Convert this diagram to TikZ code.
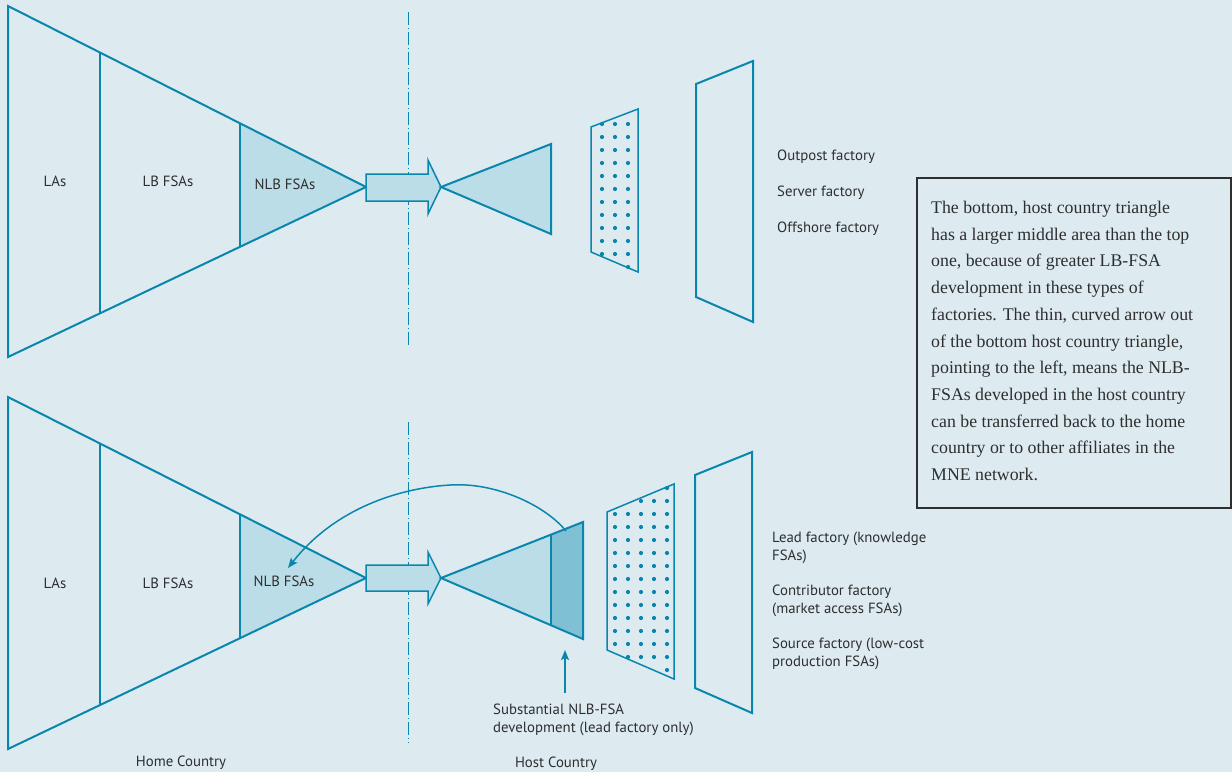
\documentclass[tikz,border=0pt]{standalone}
\usepackage{fontspec}
\setmainfont{Liberation Serif}
\newfontfamily\labelfont{PT Sans}
\usetikzlibrary{arrows.meta}
\definecolor{bg}{HTML}{DDEBF1}
\definecolor{ln}{HTML}{0A86AD}
\definecolor{fl}{HTML}{BBDDE7}
\definecolor{fd}{HTML}{80C0D4}
\definecolor{tx}{HTML}{2E2E2E}
\begin{document}
\begin{tikzpicture}[x=1pt,y=-1pt,
  shapeline/.style={draw=ln, line width=2pt, line join=miter},
  thinline/.style={draw=ln, line width=1.5pt, line join=miter},
  blockarrow/.style={draw=ln, line width=1.5pt, fill=fl, line join=miter},
  divider/.style={draw=ln, line width=2pt},
  axis/.style={draw=ln, line width=1pt, dash pattern=on 13pt off 3pt on 1pt off 3pt},
  lbl/.style={font=\labelfont\fontsize{14.8}{18}\selectfont, text=tx, inner sep=0pt},
  boxtext/.style={font=\fontsize{17.8}{26.7}\selectfont, text=tx, inner sep=0pt, align=left},
  dot/.style={fill=ln},
  connector/.style={draw=ln, line width=1.5pt, -{Stealth[length=10pt,width=8pt,inset=2pt]}},
]
\fill[bg] (0,0) rectangle (1232,772);
\useasboundingbox (0,0) rectangle (1232,772);

% ---------- TOP ROW ----------
\fill[fl] (240,123.3) -- (366,187) -- (240,246.8) -- cycle;
\draw[shapeline] (8,6) -- (366,187) -- (8,357) -- cycle;
\draw[divider] (100,52.5) -- (100,313.3);
\draw[divider] (240,123.3) -- (240,246.8);
\node[lbl, anchor=base] (tlas) at (55,186) {LAs};
\node[lbl, anchor=base] (tlb) at (168,186) {LB FSAs};
\node[lbl, anchor=base] (tnlb) at (285,189) {NLB FSAs};

\draw[axis] (408,12) -- (408,348);

\draw[blockarrow] (366,174) -- (428,174) -- (428,160) -- (441,187) -- (428,214) -- (428,201) -- (366,201) -- cycle;

\draw[shapeline, fill=fl] (441,187) -- (551,144) -- (551,234) -- cycle;

\draw[thinline] (591,127) -- (638,109) -- (638,272) -- (591,252) -- cycle;
\foreach \xx in {602,615,628}{
  \foreach \k in {0,...,11}{
    \pgfmathsetmacro\yy{124+13*\k}
    \pgfmathsetmacro\yt{127-18*(\xx-591)/47}
    \pgfmathsetmacro\yb{252+20*(\xx-591)/47}
    \pgfmathtruncatemacro\ok{((\yy>\yt-1.5)&&(\yy<\yb-1))?1:0}
    \ifnum\ok=1 \fill[dot] (\xx,\yy) circle (2.1pt);\fi
  }}
\fill[dot] (628,267) circle (2.1pt);

\draw[shapeline] (696,84) -- (753,61) -- (753,322) -- (696,297) -- cycle;

\node[lbl, anchor=base west] (outpost) at (777,160) {Outpost factory};
\node[lbl, anchor=base west] (server) at (777,196) {Server factory};
\node[lbl, anchor=base west] (offshore) at (777,232) {Offshore factory};

% ---------- TEXT BOX ----------
\node[draw=tx, line width=1.5pt, fill=bg, minimum width=314pt, minimum height=330pt, anchor=north west, inner sep=0pt] (box) at (916,177) {};
\node[boxtext, anchor=north west] (boxtxt) at (931,201) {The bottom, host country triangle\\
has a larger middle area than the top\\
one, because of greater LB-FSA\\
development in these types of\\
factories. The thin, curved arrow out\\
of the bottom host country triangle,\\
pointing to the left, means the NLB-\\
FSAs developed in the host country\\
can be transferred back to the home\\
country or to other affiliates in the\\
MNE network.};

% ---------- BOTTOM ROW ----------
\fill[fl] (240,514.3) -- (366,578) -- (240,638) -- cycle;
\draw[shapeline] (8,397) -- (366,578) -- (8,749) -- cycle;
\draw[divider] (100,443.5) -- (100,705);
\draw[divider] (240,514.3) -- (240,638);
\node[lbl, anchor=base] (blas) at (55,588) {LAs};
\node[lbl, anchor=base] (blb) at (168,588) {LB FSAs};
\node[lbl, anchor=base] (bnlb) at (284,586) {NLB FSAs};

\draw[axis] (408,422) -- (408,743);

\draw[blockarrow] (366,565) -- (428,565) -- (428,552) -- (441,578) -- (428,604) -- (428,591) -- (366,591) -- cycle;

\fill[fl] (441,578) -- (551,534.6) -- (551,625.3) -- cycle;
\fill[fd] (551,534.6) -- (583,522) -- (583,639) -- (551,625.3) -- cycle;
\draw[shapeline] (441,578) -- (583,522) -- (583,639) -- cycle;
\draw[divider] (551,534.6) -- (551,625.3);

\draw[thinline] (607,512) -- (674,484) -- (674,679) -- (607,650) -- cycle;
\foreach \xx in {615,628,641,654,667}{
  \foreach \k in {0,...,14}{
    \pgfmathsetmacro\yy{488+13*\k}
    \pgfmathsetmacro\yt{512-28*(\xx-607)/67}
    \pgfmathsetmacro\yb{650+29*(\xx-607)/67}
    \pgfmathtruncatemacro\ok{((\yy>\yt-1.5)&&(\yy<\yb-1))?1:0}
    \ifnum\ok=1 \fill[dot] (\xx,\yy) circle (2.1pt);\fi
  }}

\draw[shapeline] (695,475) -- (752,452) -- (752,713) -- (695,688) -- cycle;

\node[lbl, anchor=base west, align=left] (lead) at (772,560) {Lead factory (knowledge\\FSAs)};
\node[lbl, anchor=base west, align=left] (contrib) at (772,613) {Contributor factory\\(market access FSAs)};
\node[lbl, anchor=base west, align=left] (source) at (772,666) {Source factory (low-cost\\production FSAs)};

% curved transfer arrow
\coordinate (cs) at (566,531);
\coordinate (ce) at (288,568);
\draw[connector] (cs) .. controls (545,505) and (495,482) .. (450,485) .. controls (400,488) and (335,508) .. (ce);

% NLB development note
\node[lbl, anchor=base west, align=left] (note) at (493,732) {Substantial NLB-FSA\\development (lead factory only)};
\coordinate (vs) at (565,693);
\coordinate (ve) at (565,650);
\draw[connector] (vs) -- (ve);

\node[lbl, anchor=base] (home) at (181,766) {Home Country};
\node[lbl, anchor=base] (host) at (556,767) {Host Country};
\end{tikzpicture}
\end{document}
